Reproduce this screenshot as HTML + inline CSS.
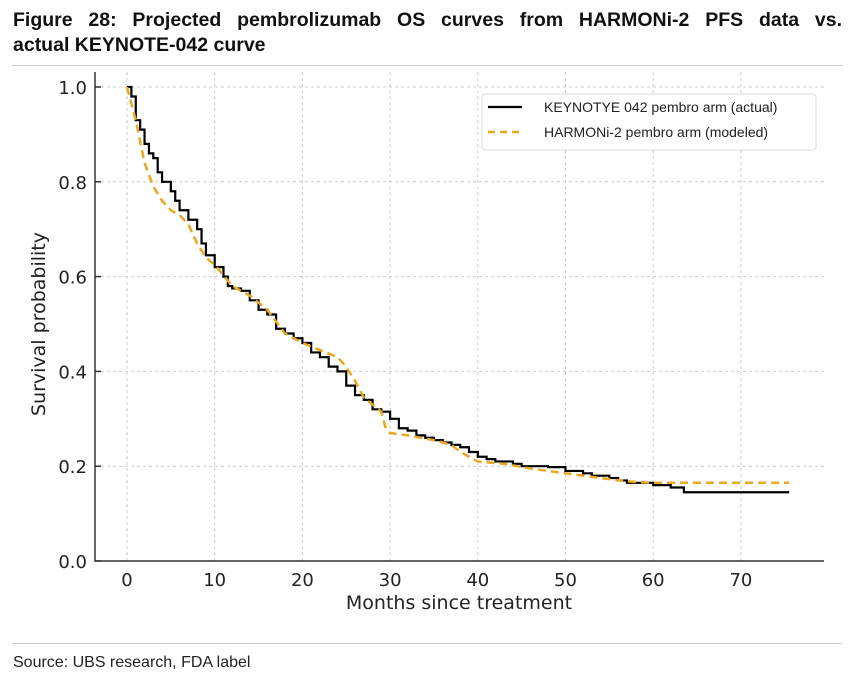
<!DOCTYPE html>
<html><head><meta charset="utf-8"><style>
body{margin:0;background:#fff;width:854px;height:678px;overflow:hidden;position:relative;font-family:"Liberation Sans",sans-serif}
#title{position:absolute;left:13px;top:8px;width:829px;font-weight:bold;font-size:19.5px;line-height:25px;color:#111}
#title .l1{text-align:justify;text-align-last:justify}
.rule{position:absolute;left:12px;width:830px;height:1px;background:#ccc}
#src{position:absolute;left:13px;top:654px;font-size:16px;color:#222}
</style></head><body>
<div id="title"><div class="l1">Figure 28: Projected pembrolizumab OS curves from HARMONi-2 PFS data vs.</div><div>actual KEYNOTE-042 curve</div></div>
<div class="rule" style="top:65px"></div>
<svg id="chart" width="854" height="678" style="position:absolute;left:0;top:0"></svg>
<div class="rule" style="top:643px"></div>
<div id="src">Source: UBS research, FDA label</div>
<script>
const xTicks=[0,10,20,30,40,50,60,70];
const yTicks=[0.0,0.2,0.4,0.6,0.8,1.0];
const actualMonths=[0,0.5,1,1.5,2,2.5,3,3.5,4,5,5.5,6,7,8,8.5,9,10,11,11.5,12,13,14,15,16,17,18,19,20,21,22,23,24,25,26,27,28,29,30,31,32,33,34,35,36,37,38,39,40,41,42,44,45,48,50,52,53,55,56,57,60,62,63.5,75.5];
const actualSurv=[1.0,0.98,0.93,0.91,0.88,0.86,0.85,0.82,0.80,0.78,0.76,0.74,0.72,0.70,0.67,0.645,0.62,0.60,0.58,0.575,0.57,0.55,0.53,0.52,0.49,0.48,0.47,0.46,0.44,0.43,0.41,0.40,0.37,0.35,0.34,0.32,0.315,0.30,0.28,0.275,0.265,0.26,0.255,0.25,0.245,0.24,0.23,0.22,0.215,0.21,0.205,0.20,0.198,0.19,0.185,0.18,0.175,0.17,0.165,0.16,0.155,0.145,0.145];
const modelMonths=[0,1,2,3,4,5,6,7,8,9,10,12,14,16,18,20,22,24,25,26,27,28,29,29.5,30,32,35,37,38,40,43,46,50,54,57,60,75.5];
const modelSurv=[1.0,0.93,0.84,0.79,0.76,0.74,0.73,0.71,0.67,0.64,0.625,0.58,0.56,0.53,0.48,0.46,0.445,0.43,0.41,0.38,0.345,0.33,0.315,0.28,0.27,0.265,0.255,0.245,0.23,0.21,0.205,0.195,0.185,0.175,0.168,0.165,0.165];
const NS="http://www.w3.org/2000/svg";
const svg=document.getElementById('chart');
const X=m=>127+m*8.77, Y=s=>561-s*474;
function el(t,a,txt){const e=document.createElementNS(NS,t);for(const k in a)e.setAttribute(k,a[k]);if(txt!=null)e.textContent=txt;svg.appendChild(e);return e;}
xTicks.forEach(v=>{
 const g=el('line',{x1:X(v),x2:X(v),y1:72,y2:561,stroke:'#ccc','stroke-dasharray':'3,3'});
 
 const t=el('text',{x:X(v),y:586,'text-anchor':'middle','font-size':18,'font-family':'DejaVu Sans,sans-serif',fill:'#222'},v);
 
});
yTicks.forEach(v=>{
 const g=el('line',{x1:95,x2:824,y1:Y(v),y2:Y(v),stroke:'#ccc','stroke-dasharray':'3,3'});
 
 const tk=el('line',{x1:95,x2:101,y1:Y(v),y2:Y(v),stroke:'#333','stroke-width':1.5});
 
 const t=el('text',{x:87,y:Y(v)+7,'text-anchor':'end','font-size':18,'font-family':'DejaVu Sans,sans-serif',fill:'#222'},v.toFixed(1));
 
});
const ax=el('path',{d:'M95,72V561H824',fill:'none',stroke:'#333','stroke-width':1.5});

let d='M'+X(actualMonths[0])+','+Y(actualSurv[0]);
for(let i=1;i<actualMonths.length;i++){d+='H'+X(actualMonths[i])+'V'+Y(actualSurv[i]);}
const a=el('path',{d:d,fill:'none',stroke:'#000','stroke-width':2.2});

const m=el('path',{d:'M'+modelMonths.map((v,i)=>X(v)+','+Y(modelSurv[i])).join('L'),fill:'none',stroke:'#E8A820','stroke-width':2.5,'stroke-dasharray':'8,5','stroke-linejoin':'round'});

const xl=el('text',{x:459,y:609,'text-anchor':'middle','font-size':19,'font-family':'DejaVu Sans,sans-serif',fill:'#222'},'Months since treatment');

const yl=el('text',{x:45,y:324,'text-anchor':'middle','font-size':19,'font-family':'DejaVu Sans,sans-serif',fill:'#222',transform:'rotate(-90 45 324)'},'Survival probability');

const lb=el('rect',{x:482,y:94,width:334,height:56,rx:3,fill:'#fff',stroke:'#ddd'});

const l1=el('line',{x1:488,x2:522,y1:107,y2:107,stroke:'#000','stroke-width':2.2});

const t1=el('text',{x:544,y:112,'font-size':14,fill:'#222'},'KEYNOTYE 042 pembro arm (actual)');

const l2=el('line',{x1:488,x2:522,y1:132,y2:132,stroke:'#E8A820','stroke-width':2.5,'stroke-dasharray':'7,5'});

const t2=el('text',{x:544,y:137,'font-size':14,fill:'#222'},'HARMONi-2 pembro arm (modeled)');

</script>
</body></html>
